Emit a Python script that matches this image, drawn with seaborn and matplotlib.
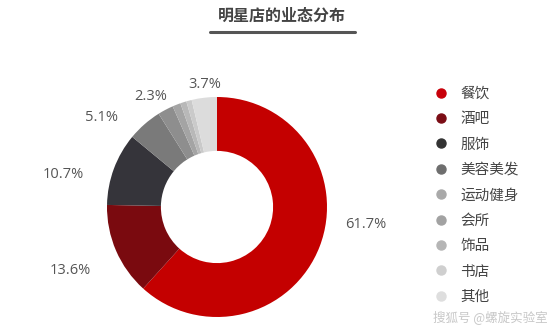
import matplotlib
matplotlib.use("Agg")
import matplotlib.pyplot as plt
from matplotlib.lines import Line2D
import seaborn as sns
import numpy as np

categories = ["餐饮", "酒吧", "服饰", "美容美发", "运动健身", "会所", "饰品", "书店", "其他"]
shares = [61.7, 13.6, 10.7, 5.1, 2.3, 1.2, 0.9, 0.8, 3.7]
shown_labels = ["61.7%", "13.6%", "10.7%", "5.1%", "2.3%", "", "", "", "3.7%"]
slice_colors = ["#c40000", "#7a0a0f", "#35343a", "#7a7a7a", "#8e8e8e",
                "#a4a4a4", "#b8b8b8", "#cacaca", "#dcdcdc"]
legend_colors = ["#c8000a", "#7b0d15", "#333333", "#6e6e6e", "#a9a9a9",
                 "#a2a2a2", "#b5b5b5", "#cfcfcf", "#dedede"]
title = "明星店的业态分布"

sns.set_theme(style="white")
plt.rcParams["font.family"] = ["Noto Sans CJK SC", "DejaVu Sans"]

fig = plt.figure(figsize=(5.54, 3.35), dpi=100)
fig.patch.set_facecolor("white")

ax = fig.add_axes([107 / 554, 18 / 335, 220 / 554, 220 / 335])
palette = sns.color_palette(slice_colors)
wedges, _ = ax.pie(shares, colors=palette, startangle=90, counterclock=False,
                   wedgeprops=dict(width=0.49, linewidth=0))
ax.set_xlim(-1, 1)
ax.set_ylim(-1, 1)
ax.set_aspect("equal")
ax.axis("off")

# percentage labels placed along each wedge's mid angle
label_r = [1.36, 1.45, 1.43, 1.33, 1.17, 1.3, 1.3, 1.3, 1.12]
label_shift = [14.5, 0, 8.5, 11, 3, 0, 0, 0, -1]
for w, lab, r, sh in zip(wedges, shown_labels, label_r, label_shift):
    if not lab:
        continue
    ang = np.deg2rad((w.theta1 + w.theta2) / 2 + sh)
    ax.text(r * np.cos(ang), r * np.sin(ang), lab, ha="center", va="center",
            fontsize=10.5, color="#555555", family=["Open Sans", "DejaVu Sans"])

# title with underline
fig.text(282 / 554, 1 - 16 / 335, title, ha="center", va="center",
         fontsize=11.5, color="#444444", fontweight="bold")
fig.add_artist(Line2D([210 / 554, 355 / 554], [1 - 32 / 335, 1 - 32 / 335],
                      color="#555555", linewidth=2.2, transform=fig.transFigure))

handles = [Line2D([], [], marker="o", linestyle="none", markersize=6.5,
                  markerfacecolor=c, markeredgecolor=c) for c in legend_colors]
leg = fig.legend(handles, categories, loc="upper left",
                 bbox_to_anchor=(428 / 554, 1 - 81 / 335), frameon=False,
                 fontsize=10.5, labelspacing=0.78, handlelength=1.0,
                 handletextpad=0.8, borderaxespad=0)
for t in leg.get_texts():
    t.set_color("#444444")

fig.text(548 / 554, 1 - 318 / 335, "搜狐号 @螺旋实验室", ha="right", va="center",
         fontsize=9, color="#c8c8c8", style="italic")

fig.savefig("out.png", dpi=100, facecolor="white")
